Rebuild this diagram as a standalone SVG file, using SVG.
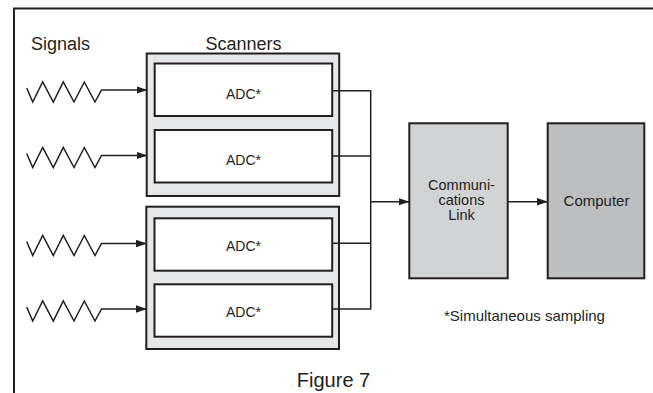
<svg xmlns="http://www.w3.org/2000/svg" width="653" height="393" viewBox="0 0 653 393">
<style>
  text { font-family: "Liberation Sans", Arial, sans-serif; fill: #231f20; }
  .frame { fill: none; stroke: #231f20; stroke-width: 2; }
  .scanner { fill: #e6e7e8; stroke: #231f20; stroke-width: 2; }
  .adc { fill: #ffffff; stroke: #231f20; stroke-width: 2; }
  .comm { fill: #d1d3d4; stroke: #231f20; stroke-width: 2; }
  .comp { fill: #bcbec0; stroke: #231f20; stroke-width: 2; }
  .wire { fill: none; stroke: #231f20; stroke-width: 1.5; }
  .arrow { fill: none; stroke: #231f20; stroke-width: 1.5; marker-end: url(#ah); }
  .adct { font-size: 14px; text-anchor: middle; }
  .big { font-size: 18px; }
  .box { font-size: 15px; text-anchor: middle; }
  .box2 { font-size: 14.5px; text-anchor: middle; }
</style>
<defs>
  <marker id="ah" markerUnits="userSpaceOnUse" markerWidth="11" markerHeight="8" refX="10.5" refY="4" orient="auto">
    <path d="M0,0.3 L11,4 L0,7.7 z" fill="#231f20"/>
  </marker>
</defs>
<rect width="653" height="393" fill="#ffffff"/>
<g id="frame">
  <path class="frame" d="M14,393 V8.5 H653"/>
</g>
<g id="labels">
  <text class="big" x="31" y="50">Signals</text>
  <text class="big" x="243.5" y="50" text-anchor="middle">Scanners</text>
  <text x="444" y="321" font-size="15">*Simultaneous sampling</text>
  <text x="333.5" y="386.5" font-size="20" text-anchor="middle">Figure 7</text>
</g>
<g id="scanner1">
  <rect class="scanner" x="146.7" y="53.5" width="192.5" height="142.5"/>
  <g id="adc1">
    <rect class="adc" x="154.7" y="63.5" width="177.5" height="52.5"/>
    <text class="adct" x="243.5" y="99">ADC*</text>
  </g>
  <g id="adc2">
    <rect class="adc" x="154.7" y="130" width="177.5" height="52.5"/>
    <text class="adct" x="243.5" y="165">ADC*</text>
  </g>
</g>
<g id="scanner2">
  <rect class="scanner" x="146.3" y="206.7" width="192.7" height="142.3"/>
  <g id="adc3">
    <rect class="adc" x="154.5" y="218.3" width="177.7" height="52.4"/>
    <text class="adct" x="243.5" y="251">ADC*</text>
  </g>
  <g id="adc4">
    <rect class="adc" x="154.5" y="284.3" width="177.7" height="52.4"/>
    <text class="adct" x="243.5" y="317">ADC*</text>
  </g>
</g>
<g id="comm">
  <rect class="comm" x="409.3" y="123.3" width="98.4" height="155"/>
  <text class="box2" x="461.5" y="190">Communi-</text>
  <text class="box2" x="461.5" y="204.8">cations</text>
  <text class="box2" x="461.5" y="219.5">Link</text>
</g>
<g id="computer">
  <rect class="comp" x="547.7" y="123.3" width="96.6" height="155"/>
  <text class="box" x="596.5" y="206">Computer</text>
</g>
<g id="connectors">
  <path class="arrow" d="M26.7,88 L32.7,102 L42.7,82 L53.3,102 L63.3,82 L74,102 L84.3,82 L95,102 L101.5,90 L147,90"/>
  <path class="arrow" d="M26.7,153.5 L32.7,167.5 L42.7,147.5 L53.3,167.5 L63.3,147.5 L74,167.5 L84.3,147.5 L95,167.5 L101.5,155.5 L147,155.5"/>
  <path class="arrow" d="M26.7,241.5 L32.7,255.5 L42.7,235.5 L53.3,255.5 L63.3,235.5 L74,255.5 L84.3,235.5 L95,255.5 L101.5,243.5 L146.5,243.5"/>
  <path class="arrow" d="M26.7,307 L32.7,321 L42.7,301 L53.3,321 L63.3,301 L74,321 L84.3,301 L95,321 L101.5,309 L146.5,309"/>
  <path class="wire" d="M332,90.7 H370.7 V309 H332"/>
  <path class="wire" d="M332,156 H370.7"/>
  <path class="wire" d="M332,243.3 H370.7"/>
  <path class="arrow" d="M370.7,201.7 H409"/>
  <path class="arrow" d="M507.7,201.7 H547.5"/>
</g>
</svg>
